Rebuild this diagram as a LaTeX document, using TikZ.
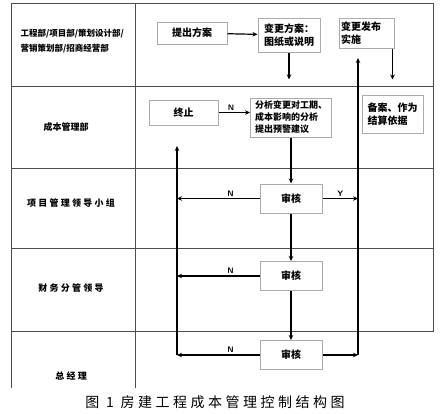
\documentclass[tikz,border=0pt]{standalone}
\usepackage{fontspec}
\newfontfamily\cjk{Noto Sans CJK SC}
\newfontfamily\cjkw{Noto Sans CJK SC}[LetterSpace=25]
\usetikzlibrary{arrows.meta, positioning}

\begin{document}
\begin{tikzpicture}[x=1pt, y=-1pt, font=\cjk\bfseries]
    \tikzstyle{box}=[draw=gray!65, line width=1pt, align=left, inner sep=2pt, font=\cjk\bfseries\fontsize{10}{13}\selectfont]
    \tikzstyle{flow}=[-{Stealth[length=5pt, width=4.5pt]}, line width=1.2pt]
    \tikzstyle{lane}=[draw=black!70, line width=0.8pt]
    \tikzstyle{role}=[font=\cjkw\bfseries\fontsize{9}{11}\selectfont]
    \tikzstyle{yn}=[font=\sffamily\bfseries\fontsize{8}{9}\selectfont, inner sep=1.5pt]

    \useasboundingbox (0,0) rectangle (445,413);

    % lanes
    \draw[lane] (11,388) -- (11,3) -- (433,3) -- (433,332);
    \draw[lane] (135,3) -- (135,388);
    \foreach \ly in {86,168,248,331}
        \draw[lane] (11,\ly) -- (433,\ly);

    % roles
    \node[anchor=west, align=left, font=\cjk\bfseries\fontsize{8.5}{15}\selectfont] (r1) at (17,41) {工程部/项目部/策划设计部/\\营销策划部/招商经营部};
    \node[font=\cjk\bfseries\fontsize{9}{11}\selectfont] (r2) at (66,127) {成本管理部};
    \node[role] (r3) at (71,203) {项目管理领导小组};
    \node[role] (r4) at (71,288) {财务分管领导};
    \node[role] (r5) at (71,376) {总经理};

    % steps
    \node[box, align=center, minimum width=70pt, minimum height=22pt] (tcfa) at (192,33) {提出方案};
    \node[box, minimum width=62pt, minimum height=34pt] (bgfa) at (289,35) {变更方案：\\图纸或说明};
    \node[box, text width=51pt, minimum height=30pt] (bgfb) at (366.5,33) {变更发布\\实施};
    \node[box, align=center, minimum width=69pt, minimum height=25pt] (zz) at (183.5,112.5) {终止};
    \node[box, font=\cjk\bfseries\fontsize{9}{12}\selectfont, minimum width=81pt, minimum height=39pt] (fx) at (291,117.5) {分析变更对工期、\\成本影响的分析\\提出预警建议};
    \node[box, minimum width=61pt, minimum height=38pt] (ba) at (392.5,114) {备案、作为\\结算依据};
    \node[box, align=center, minimum width=62pt, minimum height=29pt] (sh1) at (291,198.5) {审核};
    \node[box, align=center, minimum width=62pt, minimum height=29pt] (sh2) at (291,276) {审核};
    \node[box, align=center, minimum width=62pt, minimum height=29pt] (sh3) at (291,355) {审核};

    \coordinate (lt) at (177,146);
    \coordinate (rt) at (358,58);
    \coordinate (lb) at (sh3.west -| lt);
    \coordinate (rb) at (sh3.east -| rt);

    \draw[flow] (tcfa) -- (bgfa);
    \draw[flow, shorten >=18pt] (bgfa.south) -- (bgfa.south |- fx.north);
    \draw[flow, shorten >=15pt] (bgfb.south -| ba) -- (ba.north);
    \draw[flow] (zz.east) -- node[yn, above, pos=0.4] {N} (zz.east -| fx.west);
    \draw[flow] (fx) -- (sh1);
    \draw[flow] (sh1) -- (sh2);
    \draw[flow] (sh2) -- (sh3);
    \draw[flow] (sh1.west) -- node[yn, above, pos=0.35] {N} (sh1.west -| lt);
    \draw[flow] (sh1.east) -- node[yn, above] {Y} (sh1.east -| rt);
    \draw[flow] (sh2.west) -- node[yn, above, pos=0.35] {N} (sh2.west -| lt);
    \draw[flow] (sh3.west) -- node[yn, above, pos=0.35] {N} (lb);
    \draw[flow] (sh3.east) -- (rb);
    \draw[flow] (lb) -- (lt);
    \draw[flow] (rb) -- (rt);

    \node[font=\cjkw\fontsize{14}{16}\selectfont] (cap) at (215,402) {图 1 房建工程成本管理控制结构图};
\end{tikzpicture}
\end{document}
